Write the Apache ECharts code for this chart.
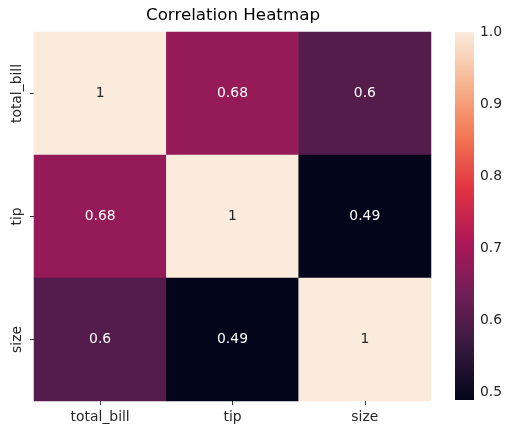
<!DOCTYPE html>
<html>
<head>
<meta charset="utf-8">
<script src="https://cdn.jsdelivr.net/npm/echarts@6/dist/echarts.min.js"></script>
<style>
html,body{margin:0;padding:0;background:#fff;}
#main{width:515px;height:435px;}
</style>
</head>
<body>
<div id="main"></div>
<script>
// Data
const categories = ['total_bill', 'tip', 'size'];
const rowTotalBill = [1, 0.68, 0.6];
const rowTip = [0.68, 1, 0.49];
const rowSize = [0.6, 0.49, 1];
const colorbarTicks = [0.5, 0.6, 0.7, 0.8, 0.9, 1.0];
const rocket = ['#03051a', '#35193e', '#701f57', '#ad1759', '#e13342', '#f37651', '#f6b48f', '#faebdd'];

const rows = [rowTotalBill, rowTip, rowSize];
const vmin = Math.min(...rows.flat());
const vmax = Math.max(...rows.flat());

const FONT = 'DejaVu Sans';
const data = [];
rows.forEach((row, r) => {
  row.forEach((v, c) => {
    const norm = (v - vmin) / (vmax - vmin);
    data.push({
      value: [c, r, v],
      label: { color: norm > 0.75 ? '#262626' : '#ffffff' }
    });
  });
});

const CB = { left: 455, top: 32, width: 19, height: 368 };
const gradStops = rocket.map((c, i) => ({ offset: 1 - i / (rocket.length - 1), color: c }));

const chart = echarts.init(document.getElementById('main'), null, {renderer: 'canvas'});
chart.setOption({
  animation: false,
  backgroundColor: '#ffffff',
  textStyle: { fontFamily: FONT },
  title: {
    text: 'Correlation Heatmap',
    left: 146, top: 7, padding: 0,
    textStyle: { fontFamily: FONT, fontSize: 16.7, fontWeight: 'normal', color: '#000' }
  },
  grid: [
    { left: 34, top: 32, width: 397, height: 369 },
    { left: CB.left, top: CB.top, width: CB.width, height: CB.height }
  ],
  graphic: [{
    type: 'rect', left: CB.left, top: CB.top, silent: true, z: 1,
    shape: { width: CB.width, height: CB.height },
    style: { fill: new echarts.graphic.LinearGradient(0, 0, 0, 1, gradStops.slice().sort((a, b) => a.offset - b.offset)) }
  }],
  xAxis: [
    {
      type: 'category', data: categories, gridIndex: 0,
      axisLine: { show: false },
      axisTick: { show: true, length: 4, alignWithLabel: true, lineStyle: { color: '#333' } },
      axisLabel: { fontFamily: FONT, fontSize: 13.9, color: '#262626', margin: 9 },
      splitLine: { show: false }
    },
    { type: 'value', gridIndex: 1, show: false, min: 0, max: 1 }
  ],
  yAxis: [
    {
      type: 'category', data: categories, gridIndex: 0, inverse: true,
      axisLine: { show: false },
      axisTick: { show: true, length: 4, alignWithLabel: true, lineStyle: { color: '#333' } },
      axisLabel: { fontFamily: FONT, fontSize: 13.9, color: '#262626', rotate: 90, margin: 10 },
      splitLine: { show: false }
    },
    {
      type: 'value', gridIndex: 1, position: 'right', min: vmin, max: vmax,
      axisLine: { show: false },
      splitLine: { show: false },
      axisTick: { show: true, length: 4, customValues: colorbarTicks, lineStyle: { color: '#333' } },
      axisLabel: {
        show: true, customValues: colorbarTicks, margin: 6,
        fontFamily: FONT, fontSize: 13.9, color: '#262626',
        formatter: v => Number(v).toFixed(1)
      }
    }
  ],
  visualMap: {
    type: 'continuous',
    show: false,
    min: vmin, max: vmax,
    seriesIndex: 0,
    inRange: { color: rocket }
  },
  series: [{
    type: 'heatmap',
    xAxisIndex: 0, yAxisIndex: 0,
    data: data,
    itemStyle: { borderWidth: 0 },
    label: {
      show: true,
      fontFamily: FONT, fontSize: 13.9,
      formatter: p => String(p.value[2])
    },
    emphasis: { disabled: true }
  }]
});
</script>
</body>
</html>
